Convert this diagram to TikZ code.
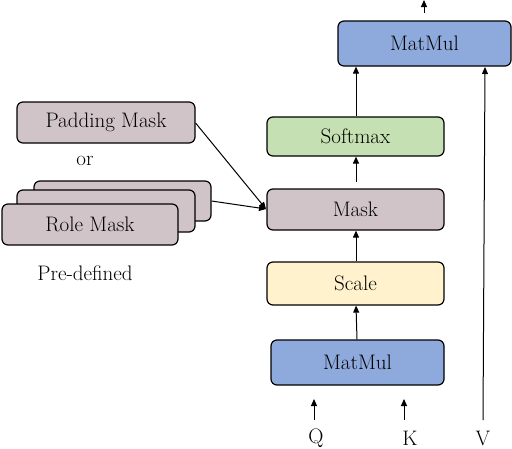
\documentclass[tikz,border=0pt]{standalone}
\usetikzlibrary{arrows.meta}
\definecolor{mmblue}{HTML}{8EA9DB}
\definecolor{smgreen}{HTML}{C5E0B3}
\definecolor{mkmauve}{HTML}{D1C4C9}
\definecolor{scyellow}{HTML}{FFF2CC}
\begin{document}
\begin{tikzpicture}[x=1pt,y=-1pt,
  box/.style={draw=black,line width=1.2pt,rounded corners=6pt,inner sep=0pt,
    font=\fontsize{21}{25}\selectfont,text=black},
  arr/.style={-{Triangle[length=7pt,width=6pt]},line width=1pt},
  lbl/.style={font=\fontsize{21}{25}\selectfont,inner sep=0pt,text=black}]
\useasboundingbox (0,0) rectangle (512,448);
% right column
\node[box,fill=mmblue,minimum width=173pt,minimum height=45pt] (mmtop) at (424.5,43.5) {MatMul};
\node[box,fill=smgreen,minimum width=177pt,minimum height=39pt] (soft) at (355.5,136.5) {Softmax};
\node[box,fill=mkmauve,minimum width=177pt,minimum height=41pt] (mask) at (355.5,209.5) {Mask};
\node[box,fill=scyellow,minimum width=177pt,minimum height=43pt] (scale) at (355.5,283.5) {Scale};
\node[box,fill=mmblue,minimum width=173pt,minimum height=45pt] (mmbot) at (357.5,362.5) {MatMul};
% left masks
\node[box,fill=mkmauve,minimum width=178pt,minimum height=41pt] (pad) at (106,122.5) {Padding Mask};
\node[lbl] (or) at (85,161) {or};
\node[box,fill=mkmauve,minimum width=177pt,minimum height=40pt] (rback) at (122.5,201) {};
\node[box,fill=mkmauve,minimum width=178pt,minimum height=42pt] (rmid) at (106,211) {};
\node[box,fill=mkmauve,minimum width=176pt,minimum height=41pt] (role) at (90,224.5) {Role Mask};
\node[lbl] (pre) at (85,273) {Pre-defined};
% inputs
\node[lbl] (q) at (316,438) {Q};
\node[lbl] (k) at (410,438) {K};
\node[lbl] (v) at (483,438) {V};
\coordinate (qs) at (314,420);
\coordinate (qe) at (314,399);
\coordinate (ks) at (404,420);
\coordinate (ke) at (404,399);
\coordinate (vs) at (483,420);
\coordinate (ve) at (485,67);
\coordinate (outs) at (424,13);
\coordinate (oute) at (424,0);
\coordinate (mks) at (356,182);
\coordinate (mkin) at (266,209);
% arrows
\draw[arr] (outs) -- (oute);
\draw[arr] (soft.north -| 356,0) -- (mmtop.south -| 356,0);
\draw[arr] (mks) -- (soft.south -| 356,0);
\draw[arr] (scale.north -| 356,0) -- (mask.south -| 356,0);
\draw[arr] (mmbot.north -| 357,0) -- (scale.south -| 356,0);
\draw[arr] (qs) -- (qe);
\draw[arr] (ks) -- (ke);
\draw[arr] (vs) -- (ve);
\draw[arr] (pad.east |- 0,123) -- (mkin);
\draw[arr] (rback.east |- 0,201) -- (mkin);
\end{tikzpicture}
\end{document}
